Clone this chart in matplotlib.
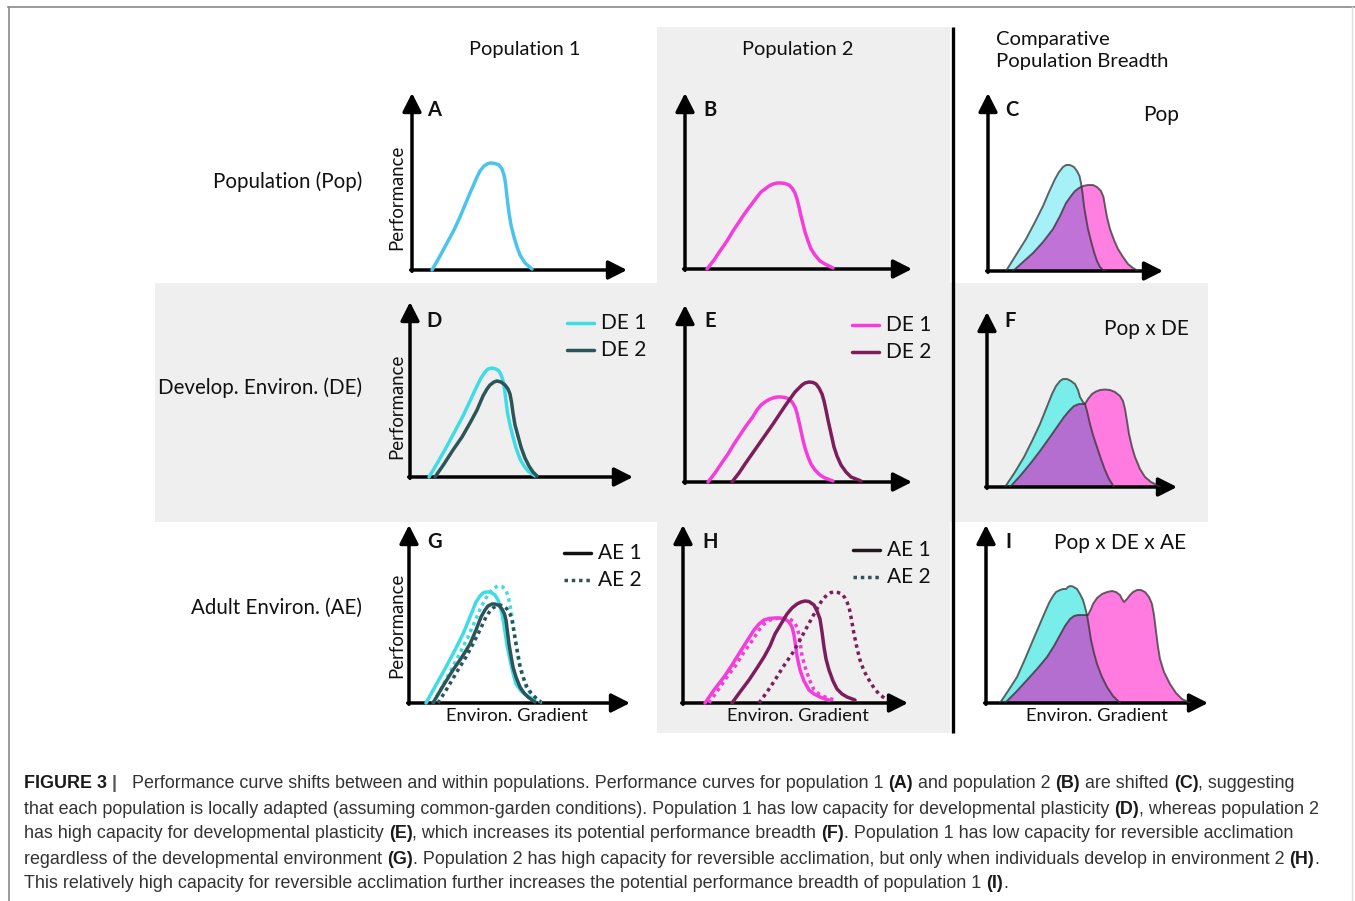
import matplotlib
matplotlib.use('Agg')
import matplotlib.pyplot as plt
from matplotlib.patches import Rectangle

# ---------------- data (curve values; units = px offsets from each panel origin)
A_pop1_x = [20, 28, 35, 42, 48, 53, 58, 62, 65, 68, 72, 76, 79, 83, 87, 90, 92, 93.5, 95, 97, 99, 102, 105, 108, 113, 120]
A_pop1_y = [0, 14, 27, 40, 53, 65, 77, 86, 93, 99, 104, 106.5, 107, 106.5, 105, 101, 95, 87, 73, 57, 45, 33, 23, 15, 7, 1]

B_pop2_x = [22, 29, 35, 42, 48, 54, 60, 66, 72, 76, 80, 84, 88, 92, 96, 100, 104, 107, 110, 112, 114, 116, 118, 120, 123, 126, 130, 135, 140, 148]
B_pop2_y = [0, 9, 18, 28, 38, 47, 56, 64, 72, 77, 80, 83, 85, 86, 86, 85.5, 84, 81, 76, 70, 62, 53, 45, 37, 28, 20, 14, 8, 5, 1]

C_pop1_x = [18, 28, 38, 47, 55, 61, 67, 71, 75, 78, 82, 86, 89, 91.5, 93, 94.5, 96, 98, 100, 103, 106, 109, 112, 115, 118]
C_pop1_y = [0, 16, 32, 49, 65, 79, 92, 99, 104, 106, 106, 104, 100, 95, 88, 78, 65, 53, 42, 30, 19, 10, 4, 1, 0]
C_pop2_x = [25, 35, 45, 55, 65, 72, 78, 83, 87, 91, 95, 100, 105, 109, 113, 115.5, 117, 119, 122, 126, 130, 135, 140, 145, 150]
C_pop2_y = [0, 9, 18, 29, 42, 55, 68, 75, 80, 83, 85, 86, 86, 84, 80, 74, 65, 54, 42, 31, 22, 14, 7, 3, 0]

D_de1_x = [19, 28, 37, 45, 53, 60, 67, 71, 75, 78, 82, 86, 89, 91.5, 93, 94.5, 96, 97.5, 100, 103, 106, 110, 114, 118, 122, 125]
D_de1_y = [0, 15, 31, 46, 61, 76, 91, 99, 105, 108, 109, 108, 106, 101, 96, 88, 76, 64, 52, 40, 29, 18, 11, 6, 3, 1]
D_de2_x = [25, 34, 43, 52, 60, 67, 73, 77, 80, 84, 87, 91, 95, 98, 100, 101.5, 103, 105, 108, 111, 115, 119, 123, 127]
D_de2_y = [0, 13, 27, 40, 54, 67, 81, 88, 92, 95, 96, 95, 92, 88, 83, 75, 64, 52, 41, 30, 19, 11, 5, 1]

E_de1_x = [23, 30, 36, 43, 49, 55, 61, 67, 72, 76, 80, 84, 88, 92, 96, 100, 104, 107, 110, 112, 114, 116, 118, 120, 123, 126, 130, 135, 140, 148]
E_de1_y = [0, 9, 18, 28, 38, 47, 56, 64, 72, 77, 80, 82.5, 84, 85, 85, 84.5, 83, 80, 75, 69, 60, 51, 42, 34, 25, 18, 12, 7, 4, 1]
E_de2_x = [47, 54, 60, 67, 74, 81, 88, 94, 100, 105, 110, 114, 117, 120, 124, 128, 131, 134, 137, 139, 141, 143, 145, 147, 149, 152, 156, 161, 166, 176]
E_de2_y = [0, 9, 18, 28, 38, 48, 58, 67, 76, 83, 90, 94, 97, 99, 100, 99.5, 98, 94, 88, 81, 72, 62, 53, 44, 35, 26, 17, 10, 5, 1]

F_pop1_x = [18, 28, 37, 45, 53, 59, 65, 69, 73, 76, 80, 84, 88, 91, 93, 96, 98, 100, 103, 106, 110, 114, 118, 122, 127]
F_pop1_y = [0, 15, 30, 46, 63, 78, 93, 101, 106, 108, 108, 106, 103, 97, 90, 85, 83, 76, 63, 52, 40, 28, 17, 8, 0]
F_pop2_x = [23, 33, 43, 53, 63, 70, 77, 82, 87, 92, 98, 101, 105, 109, 113, 118, 123, 128, 133, 136, 138, 140, 142, 145, 148, 153, 158, 164, 170, 173]
F_pop2_y = [0, 11, 23, 36, 50, 60, 70, 76, 81, 83, 83, 88, 93, 95.5, 97, 97.5, 97, 95, 91, 86, 78, 66, 53, 40, 30, 18, 10, 5, 2, 0]

G_de1_ae1_x = [17, 27, 37, 46, 54, 61, 67, 71, 74, 77, 80, 83, 86, 89, 91, 93, 95, 96.5, 98, 101, 104, 107, 112, 117, 122, 126]
G_de1_ae1_y = [0, 18, 36, 53, 69, 86, 101, 107, 110, 111, 111, 110, 108, 103, 97, 89, 78, 68, 58, 43, 30, 19, 12, 8, 5, 3]
G_de1_ae2_x = [24, 33, 42, 51, 59, 66, 72, 77, 81, 85, 89, 93, 97, 99.5, 102, 104, 106, 108.5, 111, 114, 117, 122, 127, 132, 136]
G_de1_ae2_y = [0, 16, 33, 50, 66, 82, 96, 105, 111, 115, 117, 116.5, 113, 105, 93, 80, 66, 52, 39, 27, 16, 9, 4, 1, 0]
G_de2_ae1_x = [24, 34, 44, 53, 61, 67, 72, 76, 79, 83, 86, 90, 93, 95.5, 97, 98.5, 100, 102, 104, 107, 111, 115, 119, 123, 126]
G_de2_ae1_y = [0, 17, 33, 46, 59, 73, 86, 93, 97, 99, 99, 97.5, 94, 89, 83, 71, 59, 47, 36, 26, 16, 10, 6, 3, 1]
G_de2_ae2_x = [29, 39, 49, 57, 64, 71, 77, 81, 84, 88, 91, 95, 98, 101, 103, 105, 107, 109, 111, 114, 118, 122, 126, 129, 132]
G_de2_ae2_y = [0, 16, 33, 46, 59, 73, 86, 92, 95, 97.5, 98, 97, 94, 89, 83, 71, 59, 47, 36, 26, 16, 10, 6, 3, 1]

H_de1_ae1_x = [22, 31, 41, 49, 57, 64, 71, 76, 81, 86, 92, 97, 102, 106, 109, 111, 112.5, 114, 117, 121, 126, 131, 137, 142, 146]
H_de1_ae1_y = [0, 13, 26, 38, 51, 62, 73, 79, 83, 84.5, 85, 85, 84, 81, 76, 68, 58, 47, 33, 22, 13, 9, 6, 4, 3]
H_de1_ae2_x = [26, 35, 44, 53, 61, 69, 76, 81, 87, 93, 99, 104, 107, 111, 114, 116, 117.5, 119, 123, 127, 131, 136, 142, 148, 154]
H_de1_ae2_y = [0, 13, 26, 38, 51, 62, 73, 79, 83, 84.5, 85, 85, 84, 81, 76, 68, 58, 47, 33, 22, 13, 9, 6, 4, 3]
H_de2_ae1_x = [49, 57, 66, 74, 81, 87, 92, 98, 104, 109, 114, 118, 122, 126, 131, 134, 137, 139, 141, 143, 146, 150, 154, 159, 164, 172]
H_de2_ae1_y = [0, 11, 23, 35, 46, 57, 69, 79, 89, 95, 99, 101, 102, 101.5, 98, 92, 84, 71, 56, 44, 33, 22, 14, 9, 6, 3]
H_de2_ae2_x = [76, 84, 92, 100, 109, 117, 124, 130, 136, 140, 144, 148, 151, 155, 159, 162, 164, 166, 168, 171, 174, 177, 181, 186, 191, 196, 204]
H_de2_ae2_y = [0, 11, 23, 36, 49, 63, 76, 87, 98, 104, 108, 110.5, 111, 110.5, 109, 105, 101, 96, 86, 69, 55, 43, 32, 23, 15, 9, 3]

I_pop1_x = [14, 22, 31, 39, 47, 53, 59, 63, 67, 70, 74, 77, 80, 82, 84, 87, 91, 94, 97, 99, 101, 103, 105, 108, 111, 116, 121, 127, 134]
I_pop1_y = [0, 12, 26, 44, 63, 77, 91, 100, 107, 111, 113, 114, 114, 116, 117, 116.5, 114, 109, 103, 96, 88, 76, 63, 50, 39, 26, 16, 7, 0]
I_pop2_x = [19, 30, 41, 51, 61, 68, 74, 79, 84, 88, 92, 97, 102, 105, 107, 111, 116, 121, 126, 130, 134, 136, 138, 141, 144, 147, 151, 155, 159, 163, 166, 168, 170, 172, 174, 178, 184, 190, 196, 204]
I_pop2_y = [0, 11, 23, 34, 46, 57, 68, 77, 84, 87, 88, 88, 88, 94, 99, 105, 109, 111, 112, 111, 108, 104, 101, 104, 108, 111, 113, 113, 111, 106, 99, 88, 72, 56, 44, 31, 19, 10, 4, 0]

col_titles = ['Population 1', 'Population 2', 'Comparative', 'Population Breadth']
row_titles = ['Population (Pop)', 'Develop. Environ. (DE)', 'Adult Environ. (AE)']
panel_letters = ['A', 'B', 'C', 'D', 'E', 'F', 'G', 'H', 'I']
compare_labels = ['Pop', 'Pop x DE', 'Pop x DE x AE']
de_legend = ['DE 1', 'DE 2']
ae_legend = ['AE 1', 'AE 2']
y_label = 'Performance'
x_label = 'Environ. Gradient'

caption_lines = [
    [("FIGURE 3", True), (" |   ", True),
     ("Performance curve shifts between and within populations. Performance curves for population 1 ", False),
     ("(A)", True), (" and population 2 ", False), ("(B)", True), (" are shifted ", False), ("(C)", True),
     (", suggesting", False)],
    [("that each population is locally adapted (assuming common-garden conditions). Population 1 has low capacity for developmental plasticity ", False),
     ("(D)", True), (", whereas population 2", False)],
    [("has high capacity for developmental plasticity ", False), ("(E)", True),
     (", which increases its potential performance breadth ", False), ("(F)", True),
     (". Population 1 has low capacity for reversible acclimation", False)],
    [("regardless of the developmental environment ", False), ("(G)", True),
     (". Population 2 has high capacity for reversible acclimation, but only when individuals develop in environment 2 ", False),
     ("(H)", True), (".", False)],
    [("This relatively high capacity for reversible acclimation further increases the potential performance breadth of population 1 ", False),
     ("(I)", True), (".", False)],
]

# ---------------- style
W, H = 1355, 901
FONT = ['Lato', 'DejaVu Sans']
CAP_FONT = ['Liberation Sans', 'DejaVu Sans']
GRAY = '#efefef'
SKY = '#4cc3ec'
CYAN = '#3fdce6'
TEAL = '#2b5558'
MAG = '#f63cdc'
DMAG = '#7e1d5b'
LW = 2.5
TXT = '#111111'

fig = plt.figure(figsize=(W / 100, H / 100), dpi=100)
fig.patch.set_facecolor('white')
bg = fig.add_axes([0, 0, 1, 1])
bg.set_xlim(0, W)
bg.set_ylim(H, 0)
bg.axis('off')

bg.add_patch(Rectangle((657, 27), 293, 706, color=GRAY, lw=0))
bg.add_patch(Rectangle((155, 283), 1053, 239, color=GRAY, lw=0))
bg.plot([8, W], [7, 7], color='#8a8a8a', lw=1.2)
bg.plot([9, 9], [7, H], color='#8a8a8a', lw=1.2)
bg.plot([1352, 1352], [7, H], color='#dddddd', lw=1.0)
bg.plot([953, 953], [27, 733], color='black', lw=2.4, solid_capstyle='butt')

# titles
bg.text(525, 50, col_titles[0], fontsize=14.4, family=FONT, ha='center', va='center', color=TXT)
bg.text(798, 50, col_titles[1], fontsize=14.4, family=FONT, ha='center', va='center', color=TXT)
bg.text(996, 39, col_titles[2], fontsize=14.6, family=FONT, ha='left', va='center', color=TXT)
bg.text(996, 62, col_titles[3], fontsize=14.6, family=FONT, ha='left', va='center', color=TXT)
for txt, yy in zip(row_titles, [182, 388, 608]):
    bg.text(362, yy, txt, fontsize=14.8, family=FONT, ha='right', va='center', color=TXT)
for yy in [197, 406, 625]:
    bg.text(397, yy, y_label, fontsize=13.4, family=FONT, ha='center', va='center', rotation=90, color=TXT)
for xx in [517, 798, 1097]:
    bg.text(xx, 716, x_label, fontsize=13.2, family=FONT, ha='center', va='center', color=TXT)
for lab, (xx, yy) in zip(panel_letters, [(434, 110), (710, 110), (1012, 110), (434, 321), (710, 321),
                                          (1010, 321), (435, 542), (710, 542), (1008, 542)]):
    bg.text(xx, yy, lab, fontsize=14.5, family=FONT, fontweight='bold', ha='center', va='center', color=TXT)
for lab, (xx, yy) in zip(compare_labels, [(1161, 115), (1146, 329), (1120, 543)]):
    bg.text(xx, yy, lab, fontsize=15, family=FONT, ha='center', va='center', color=TXT)


def make_panel(ox, oy, tx, ty):
    w, h = tx - ox, oy - ty
    ax = fig.add_axes([ox / W, 1 - oy / H, w / W, h / H])
    ax.set_xlim(0, w)
    ax.set_ylim(0, h)
    ax.axis('off')
    ap = dict(arrowstyle='-|>,head_length=0.75,head_width=0.38', lw=LW, color='black',
              shrinkA=0, shrinkB=0, mutation_scale=15)
    ax.annotate('', xy=(w, 0), xytext=(-1.3, 0), arrowprops=ap, annotation_clip=False)
    ax.annotate('', xy=(0, h), xytext=(0, -1.3), arrowprops=ap, annotation_clip=False)
    return ax


def curve(ax, x, y, color, dotted=False):
    ls = (0, (1, 1.1)) if dotted else '-'
    ax.plot(x, y, color=color, lw=LW, ls=ls, clip_on=False, solid_capstyle='round',
            solid_joinstyle='round', dash_capstyle='butt', zorder=3)


def breadth(ax, x1, y1, x2, y2, c1, c2, cp):
    p1 = ax.fill(x1, y1, color=c1, lw=0, zorder=2)[0]
    ax.fill(x2, y2, color=c2, lw=0, zorder=2)
    p3 = ax.fill(x2, y2, color=cp, lw=0, zorder=2)[0]
    p3.set_clip_path(p1)
    ax.plot(x1, y1, color='#333333', alpha=0.75, lw=1.4, zorder=3, solid_joinstyle='round')
    ax.plot(x2, y2, color='#333333', alpha=0.75, lw=1.4, zorder=3, solid_joinstyle='round')


def legend(ax_bg, x0, y0, labels, colors, dotted):
    for i, (lab, col, dt) in enumerate(zip(labels, colors, dotted)):
        yy = y0 + i * 27
        ax_bg.plot([x0, x0 + 27], [yy, yy], color=col, lw=LW,
                   ls=(0, (1, 1.1)) if dt else '-', solid_capstyle='round', dash_capstyle='butt')
        ax_bg.text(x0 + 34, yy, lab, fontsize=15, family=FONT, ha='left', va='center', color=TXT)


# Row 1
axA = make_panel(412, 270, 627, 93)
curve(axA, A_pop1_x, A_pop1_y, SKY)
axB = make_panel(685, 269, 912, 93)
curve(axB, B_pop2_x, B_pop2_y, MAG)
axC = make_panel(988, 271, 1163, 93)
breadth(axC, C_pop1_x, C_pop1_y, C_pop2_x, C_pop2_y, '#a6f0f8', '#ff80e1', '#c072d6')

# Row 2
axD = make_panel(410, 477, 633, 302)
curve(axD, D_de1_x, D_de1_y, CYAN)
curve(axD, D_de2_x, D_de2_y, TEAL)
legend(bg, 567, 323, de_legend, [CYAN, TEAL], [False, False])
axE = make_panel(685, 482, 912, 305)
curve(axE, E_de1_x, E_de1_y, MAG)
curve(axE, E_de2_x, E_de2_y, DMAG)
legend(bg, 852, 325, de_legend, [MAG, DMAG], [False, False])
axF = make_panel(987, 487, 1177, 312)
breadth(axF, F_pop1_x, F_pop1_y, F_pop2_x, F_pop2_y, '#78ede9', '#ff7bdf', '#b46ed0')

# Row 3
axG = make_panel(409, 703, 630, 525)
curve(axG, G_de1_ae1_x, G_de1_ae1_y, CYAN)
curve(axG, G_de1_ae2_x, G_de1_ae2_y, CYAN, dotted=True)
curve(axG, G_de2_ae1_x, G_de2_ae1_y, TEAL)
curve(axG, G_de2_ae2_x, G_de2_ae2_y, TEAL, dotted=True)
legend(bg, 564, 553, ae_legend, ['#111111', TEAL], [False, True])
axH = make_panel(683, 703, 908, 525)
curve(axH, H_de1_ae1_x, H_de1_ae1_y, MAG)
curve(axH, H_de1_ae2_x, H_de1_ae2_y, MAG, dotted=True)
curve(axH, H_de2_ae1_x, H_de2_ae1_y, DMAG)
curve(axH, H_de2_ae2_x, H_de2_ae2_y, DMAG, dotted=True)
legend(bg, 853, 550, ae_legend, ['#22151e', TEAL], [False, True])
axI = make_panel(986, 703, 1208, 525)
breadth(axI, I_pop1_x, I_pop1_y, I_pop2_x, I_pop2_y, '#78ede9', '#ff7bdf', '#b46ed0')

# ---------------- caption with mixed bold runs
renderer = fig.canvas.get_renderer()
CAP_SIZE = 12.9


def text_w(s, bold):
    t = fig.text(0, 0, s, fontsize=CAP_SIZE, family=CAP_FONT, fontweight='bold' if bold else 'normal')
    w = t.get_window_extent(renderer).width
    t.remove()
    return w


space_w = {b: text_w('x x', b) - text_w('xx', b) for b in (True, False)}

for i, segs in enumerate(caption_lines):
    x = 24.0
    y = 784 + i * 25
    for s, b in segs:
        lead = len(s) - len(s.lstrip(' '))
        trail = len(s) - len(s.rstrip(' '))
        core = s.strip(' ')
        x += lead * space_w[b]
        if core:
            col = '#1a1a1a' if b else '#333333'
            if core == '|':
                col = '#555555'
            t = bg.text(x, y, core, fontsize=CAP_SIZE, family=CAP_FONT,
                        fontweight='bold' if b else 'normal', ha='left', va='center', color=col)
            x += t.get_window_extent(renderer).width
        x += trail * space_w[b]

fig.savefig('out.png', dpi=100, facecolor='white')
